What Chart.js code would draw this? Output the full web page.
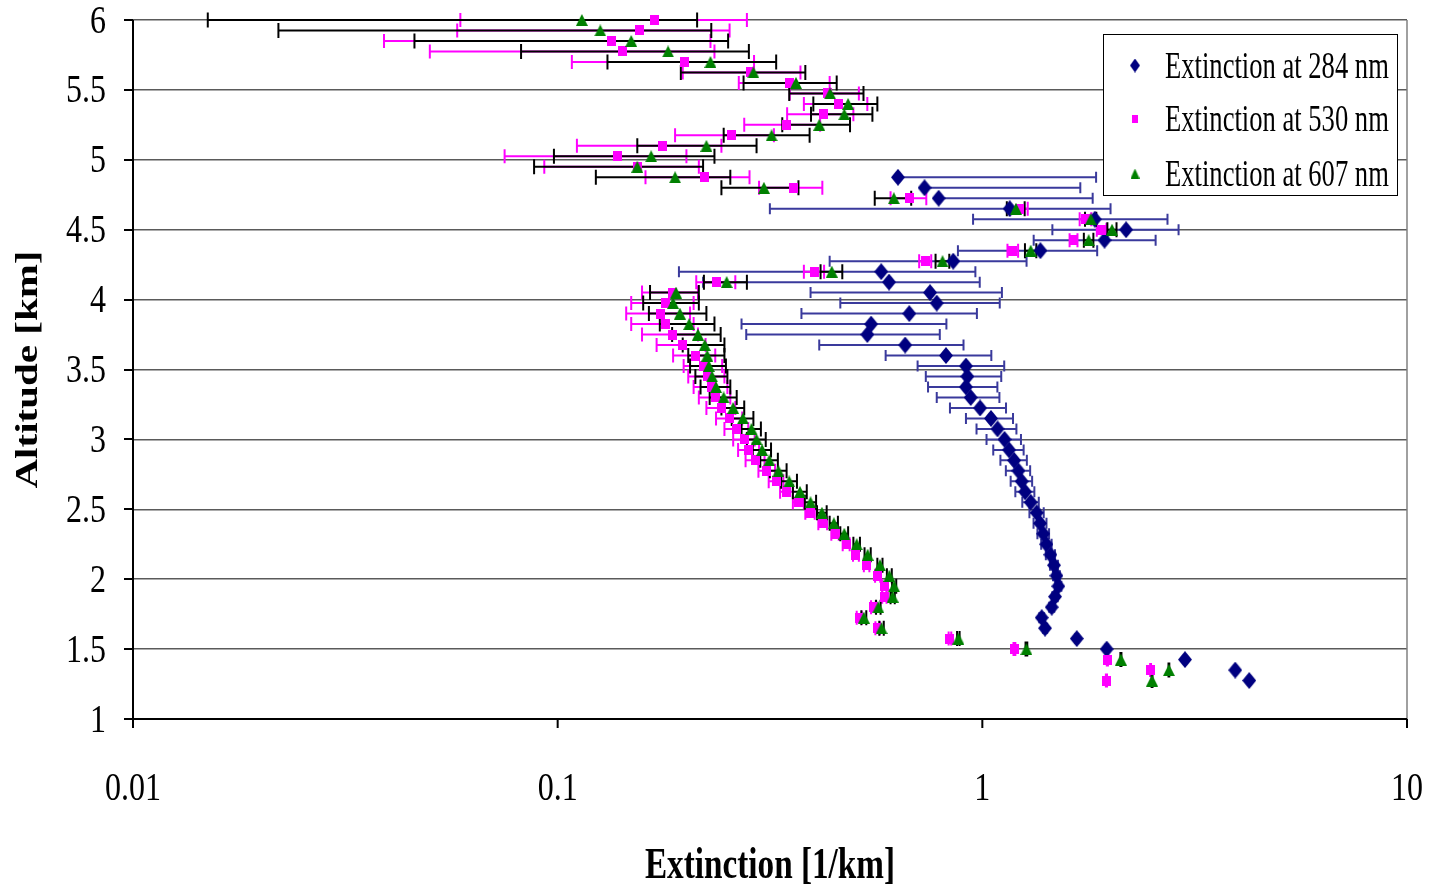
<!DOCTYPE html>
<html>
<head>
<meta charset="utf-8">
<title>Extinction profiles</title>
<script src="https://cdn.jsdelivr.net/npm/chart.js@4.4.1/dist/chart.umd.min.js"></script>
<style>
  html, body { margin: 0; padding: 0; background: #ffffff; }
  #wrap { width: 1429px; height: 886px; position: relative; }
  canvas { display: block; }
</style>
</head>
<body>
<div id="wrap"><canvas id="chart" width="1429" height="886"></canvas></div>
<script>
// Altitude levels of the retrieval [km]
const altitudes = [
  6.000, 5.925, 5.850, 5.775, 5.700, 5.625, 5.550, 5.475,
  5.400, 5.325, 5.250, 5.175, 5.100, 5.025, 4.950, 4.875,
  4.800, 4.725, 4.650, 4.575, 4.500, 4.425, 4.350, 4.275,
  4.200, 4.125, 4.050, 3.975, 3.900, 3.825, 3.750, 3.675,
  3.600, 3.525, 3.450, 3.375, 3.300, 3.225, 3.150, 3.075,
  3.000, 2.925, 2.850, 2.775, 2.700, 2.625, 2.550, 2.475,
  2.400, 2.325, 2.250, 2.175, 2.100, 2.025, 1.950, 1.875,
  1.800, 1.725, 1.650, 1.575, 1.500, 1.425, 1.350, 1.275
];

// Extinction at 284 nm [1/km] and its uncertainty
const ext284 = [
  null, null, null, null, null, null, null, null,
  null, null, null, null, null, null, null, 0.633,
  0.731, 0.789, 1.16, 1.84, 2.18, 1.94, 1.37, 0.854,
  0.578, 0.603, 0.753, 0.781, 0.673, 0.547, 0.536, 0.658,
  0.821, 0.915, 0.922, 0.915, 0.939, 0.988, 1.048, 1.086,
  1.128, 1.156, 1.188, 1.216, 1.238, 1.261, 1.300, 1.343,
  1.368, 1.392, 1.416, 1.447, 1.475, 1.495, 1.510, 1.483,
  1.457, 1.380, 1.405, 1.669, 1.963, 3.00, 3.94, 4.25
];
const err284 = [
  null, null, null, null, null, null, null, null,
  null, null, null, null, null, null, null, 1.22,
  0.97, 1.03, 0.844, 0.889, 0.718, 0.619, 0.494, 0.417,
  0.385, 0.383, 0.359, 0.318, 0.298, 0.276, 0.258, 0.245,
  0.229, 0.211, 0.186, 0.170, 0.158, 0.149, 0.133, 0.117,
  0.105, 0.095, 0.085, 0.080, 0.072, 0.065, 0.058, 0.052,
  0.048, 0.044, 0.040, 0.036, 0.032, 0.028, 0.025, 0.022,
  0.020, 0.018, 0.016, 0.012, 0.012, 0.012, 0.012, 0.012
];

// Extinction at 530 nm [1/km] and its uncertainty
const ext530 = [
  0.169, 0.156, 0.134, 0.142, 0.199, 0.285, 0.352, 0.432,
  0.458, 0.422, 0.345, 0.256, 0.177, 0.138, 0.154, 0.222,
  0.359, 0.673, 1.22, 1.75, 1.91, 1.64, 1.18, 0.734,
  0.402, 0.237, 0.186, 0.179, 0.175, 0.179, 0.186, 0.197,
  0.211, 0.221, 0.225, 0.230, 0.235, 0.243, 0.254, 0.264,
  0.275, 0.282, 0.292, 0.311, 0.327, 0.346, 0.369, 0.393,
  0.421, 0.450, 0.478, 0.504, 0.534, 0.567, 0.588, 0.588,
  0.554, 0.513, 0.567, 0.839, 1.19, 1.97, 2.49, 1.96
];
const err530 = [
  0.110, 0.098, 0.095, 0.092, 0.091, 0.088, 0.085, 0.080,
  0.078, 0.075, 0.070, 0.067, 0.066, 0.063, 0.061, 0.061,
  0.061, 0.065, 0.059, 0.055, 0.050, 0.035, 0.034, 0.024,
  0.022, 0.025, 0.028, 0.030, 0.030, 0.030, 0.028, 0.026,
  0.024, 0.023, 0.022, 0.021, 0.020, 0.019, 0.018, 0.017,
  0.016, 0.016, 0.015, 0.014, 0.013, 0.012, 0.011, 0.010,
  0.010, 0.009, 0.009, 0.008, 0.008, 0.008, 0.007, 0.007,
  0.007, 0.007, 0.007, 0.006, 0.006, 0.006, 0.006, 0.006
];

// Extinction at 607 nm [1/km] and its uncertainty
const ext607 = [
  0.114, 0.126, 0.149, 0.182, 0.229, 0.289, 0.364, 0.438,
  0.483, 0.473, 0.413, 0.319, 0.224, 0.166, 0.154, 0.189,
  0.306, 0.619, 1.20, 1.80, 2.02, 1.78, 1.30, 0.806,
  0.442, 0.250, 0.190, 0.187, 0.194, 0.204, 0.214, 0.222,
  0.225, 0.227, 0.231, 0.236, 0.246, 0.259, 0.273, 0.286,
  0.294, 0.303, 0.315, 0.331, 0.351, 0.372, 0.394, 0.419,
  0.447, 0.473, 0.506, 0.537, 0.574, 0.604, 0.620, 0.615,
  0.569, 0.526, 0.579, 0.878, 1.27, 2.12, 2.75, 2.51
];
const err607 = [
  0.099, 0.104, 0.103, 0.100, 0.098, 0.094, 0.090, 0.087,
  0.083, 0.078, 0.075, 0.073, 0.070, 0.068, 0.066, 0.066,
  0.063, 0.061, 0.058, 0.055, 0.050, 0.046, 0.040, 0.030,
  0.026, 0.029, 0.025, 0.028, 0.030, 0.030, 0.028, 0.025,
  0.022, 0.022, 0.020, 0.019, 0.018, 0.016, 0.016, 0.015,
  0.015, 0.015, 0.015, 0.015, 0.015, 0.014, 0.012, 0.011,
  0.010, 0.010, 0.009, 0.009, 0.008, 0.008, 0.007, 0.007,
  0.007, 0.007, 0.007, 0.006, 0.006, 0.006, 0.006, 0.006
];

// Axis ticks and labels
const yTicks = [1, 1.5, 2, 2.5, 3, 3.5, 4, 4.5, 5, 5.5, 6];
const yTickLabels = ['1', '1.5', '2', '2.5', '3', '3.5', '4', '4.5', '5', '5.5', '6'];
const xTicks = [0.01, 0.1, 1, 10];
const xTickLabels = ['0.01', '0.1', '1', '10'];

const seriesNames = ['Extinction at 284 nm', 'Extinction at 530 nm', 'Extinction at 607 nm'];
const xTitle = 'Extinction [1/km]';
const yTitle = 'Altitude [km]';

// ---- marker sprites -------------------------------------------------------
function sprite(w, h, color, draw) {
  const c = document.createElement('canvas');
  c.width = w; c.height = h;
  const g = c.getContext('2d');
  g.fillStyle = color;
  g.beginPath();
  draw(g, w, h);
  g.closePath();
  g.fill();
  return c;
}
const diamond = (w, h) => sprite(w, h, '#000080', (g, W, H) => {
  g.moveTo(W / 2, 0); g.lineTo(W, H / 2); g.lineTo(W / 2, H); g.lineTo(0, H / 2);
});
const square = (w, h) => sprite(w, h, '#ff00ff', (g, W, H) => { g.rect(0, 0, W, H); });
const triangle = (w, h) => sprite(w, h, '#008000', (g, W, H) => {
  g.moveTo(W / 2, 0); g.lineTo(W, H); g.lineTo(0, H);
});

const markers = [diamond(14, 17), square(9, 10), triangle(12, 12)];
const legendMarkers = [diamond(10, 14), square(6, 8), triangle(9, 10)];

function points(values) {
  const out = [];
  values.forEach((v, i) => { if (v !== null) out.push({ x: v, y: altitudes[i] }); });
  return out;
}

// Horizontal error bars (symmetric uncertainty on the extinction value)
const errorSeries = [
  { values: ext284, errors: err284, color: '#3a3a9c', cap: 11, width: 2 },
  { values: ext530, errors: err530, color: '#ff00ff', cap: 14, width: 2 },
  { values: ext607, errors: err607, color: '#000000', cap: 15, width: 2 }
];

const errorBarPlugin = {
  id: 'errorBars',
  beforeDatasetsDraw(chart) {
    const { ctx, scales: { x, y }, chartArea } = chart;
    ctx.save();
    ctx.lineCap = 'butt';
    errorSeries.forEach(s => {
      ctx.strokeStyle = s.color;
      ctx.lineWidth = s.width;
      s.values.forEach((v, i) => {
        if (v === null) return;
        const e = s.errors[i];
        const py = y.getPixelForValue(altitudes[i]);
        const pc = x.getPixelForValue(v);
        const hi = v + e, lo = v - e;
        const pr = Math.min(x.getPixelForValue(hi), chartArea.right);
        let pl = pc, leftCap = false;
        if (lo > 0) {
          pl = Math.max(x.getPixelForValue(lo), chartArea.left);
          leftCap = lo >= x.min;
        }
        ctx.beginPath();
        ctx.moveTo(pl, py); ctx.lineTo(pr, py);
        if (hi <= x.max) { ctx.moveTo(pr, py - s.cap / 2); ctx.lineTo(pr, py + s.cap / 2); }
        if (leftCap) { ctx.moveTo(pl, py - s.cap / 2); ctx.lineTo(pl, py + s.cap / 2); }
        ctx.stroke();
      });
    });
    ctx.restore();
  }
};

// Text drawn with a horizontally narrowed serif face
function narrowText(ctx, text, x, y, opts) {
  ctx.save();
  ctx.font = opts.font;
  ctx.fillStyle = opts.color || '#000000';
  ctx.textAlign = opts.align || 'left';
  ctx.textBaseline = opts.baseline || 'alphabetic';
  ctx.translate(x, y);
  if (opts.rotate) ctx.rotate(opts.rotate);
  ctx.scale(opts.sx || 1, opts.sy || 1);
  ctx.fillText(text, 0, 0);
  ctx.restore();
}

const frameAndTextPlugin = {
  id: 'frameAndText',
  afterDraw(chart) {
    const { ctx, scales: { x, y }, chartArea: a } = chart;
    ctx.save();

    // plot frame: right edge
    ctx.strokeStyle = '#808080';
    ctx.lineWidth = 1.5;
    ctx.beginPath();
    ctx.moveTo(a.right, a.top); ctx.lineTo(a.right, a.bottom);
    ctx.stroke();

    // axes
    ctx.strokeStyle = '#000000';
    ctx.lineWidth = 2;
    ctx.beginPath();
    ctx.moveTo(a.left, a.top); ctx.lineTo(a.left, a.bottom);
    ctx.moveTo(a.left, a.bottom); ctx.lineTo(a.right, a.bottom);
    yTicks.forEach(v => {
      const p = Math.round(y.getPixelForValue(v));
      ctx.moveTo(a.left - 9, p); ctx.lineTo(a.left, p);
    });
    xTicks.forEach(v => {
      const p = x.getPixelForValue(v);
      ctx.moveTo(p, a.bottom); ctx.lineTo(p, a.bottom + 9);
    });
    ctx.stroke();
    ctx.restore();

    // tick labels
    yTicks.forEach((v, i) => {
      narrowText(ctx, yTickLabels[i], 106, y.getPixelForValue(v) + 2,
        { font: '40px "Liberation Serif"', sx: 0.8, align: 'right', baseline: 'middle' });
    });
    xTicks.forEach((v, i) => {
      narrowText(ctx, xTickLabels[i], x.getPixelForValue(v), 789,
        { font: '40px "Liberation Serif"', sx: 0.8, align: 'center', baseline: 'middle' });
    });

    // axis titles
    narrowText(ctx, xTitle, (a.left + a.right) / 2, 878,
      { font: 'bold 44px "Liberation Serif"', sx: 0.755, align: 'center', baseline: 'alphabetic' });
    narrowText(ctx, yTitle, 29, (a.top + a.bottom) / 2,
      { font: 'bold 41px "Liberation Serif"', sy: 0.75, rotate: -Math.PI / 2, align: 'center', baseline: 'middle' });

    // legend
    ctx.save();
    ctx.fillStyle = '#ffffff';
    ctx.fillRect(1103, 34, 295, 162);
    ctx.strokeStyle = '#000000';
    ctx.lineWidth = 1;
    ctx.strokeRect(1103.5, 34.5, 294, 161);
    ctx.restore();
    const rows = [65.5, 119, 173.5];
    seriesNames.forEach((name, i) => {
      const m = legendMarkers[i];
      ctx.drawImage(m, 1135 - m.width / 2, rows[i] - m.height / 2);
      narrowText(ctx, name, 1165, rows[i] + 12,
        { font: '38px "Liberation Serif"', sx: 0.70, align: 'left', baseline: 'alphabetic' });
    });
  }
};

const bgPlugin = {
  id: 'bg',
  beforeDraw(chart) {
    const { ctx } = chart;
    ctx.save();
    ctx.fillStyle = '#ffffff';
    ctx.fillRect(0, 0, chart.width, chart.height);
    ctx.restore();
  }
};

new Chart(document.getElementById('chart'), {
  type: 'scatter',
  data: {
    datasets: [
      { label: seriesNames[0], data: points(ext284), pointStyle: markers[0], order: 3, clip: false },
      { label: seriesNames[1], data: points(ext530), pointStyle: markers[1], order: 2, clip: false },
      { label: seriesNames[2], data: points(ext607), pointStyle: markers[2], order: 1, clip: false }
    ]
  },
  options: {
    responsive: false,
    animation: false,
    devicePixelRatio: 1,
    layout: { padding: { top: 20, right: 22, left: 0, bottom: 0 } },
    plugins: { legend: { display: false }, tooltip: { enabled: false } },
    elements: { point: { radius: 8, hoverRadius: 8 } },
    scales: {
      x: {
        type: 'logarithmic',
        min: 0.01, max: 10,
        grid: { display: false },
        border: { display: false },
        ticks: { display: false },
        afterBuildTicks: s => { s.ticks = xTicks.map(v => ({ value: v })); },
        afterFit: s => { s.height = 886 - 719; }
      },
      y: {
        type: 'linear',
        min: 1, max: 6,
        grid: { color: '#5a5a5a', lineWidth: 1.5, drawTicks: false },
        border: { display: false },
        ticks: { display: false },
        afterBuildTicks: s => { s.ticks = yTicks.map(v => ({ value: v })); },
        afterFit: s => { s.width = 133; }
      }
    }
  },
  plugins: [bgPlugin, errorBarPlugin, frameAndTextPlugin]
});
</script>
</body>
</html>
